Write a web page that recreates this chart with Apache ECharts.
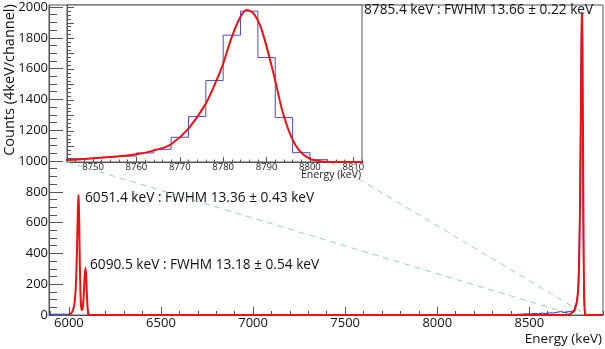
<!DOCTYPE html>
<html>
<head>
<meta charset="utf-8">
<script src="https://cdn.jsdelivr.net/npm/echarts@6/dist/echarts.min.js"></script>
<style>
  html, body { margin: 0; padding: 0; background: #fff; }
  #chart { width: 605px; height: 349px; }
</style>
</head>
<body>
<div id="chart"></div>
<script>
// ---- main spectrum ----
const xRange = [5892, 8900]
const yRange = [0, 2013]
const xMajorTicks = [6000, 6500, 7000, 7500, 8000, 8500]
const yMajorTicks = [0, 200, 400, 600, 800, 1000, 1200, 1400, 1600, 1800, 2000]

// blue histogram below 6010 keV
const lowHistE = [5893, 5900, 5908, 5916, 5924, 5932, 5940, 5948, 5956, 5964, 5972, 5980, 5988, 5996, 6004, 6012]
const lowHistC = [4, 5, 3, 4, 6, 4, 5, 3, 5, 4, 6, 5, 4, 6, 8, 12]

// blue histogram tail left of the 8785 keV peak
const tailE = [8390, 8410, 8430, 8450, 8470, 8490, 8510, 8530, 8550, 8570, 8590, 8610, 8630, 8650, 8670, 8690, 8710, 8730]
const tailC = [2, 4, 5, 6, 8, 7, 10, 8, 12, 10, 14, 12, 18, 22, 16, 20, 25, 32]

// fit of the 6051.4 / 6090.5 keV doublet
const lowFitE = [6000, 6010, 6020, 6030, 6036, 6040, 6044, 6048, 6051.4, 6054, 6057, 6060, 6063, 6066, 6070, 6074, 6078, 6082, 6086, 6090.5, 6094, 6098, 6102, 6106, 6110]
const lowFitC = [3, 8, 25, 70, 150, 260, 430, 640, 779, 720, 520, 300, 140, 60, 32, 40, 80, 160, 260, 305, 250, 130, 40, 10, 0]

// ---- 8785.4 keV peak (inset) ----
const insetX = [8744, 8812]
const insetY = [0, 2030]
const insetXTicks = [8750, 8760, 8770, 8780, 8790, 8800, 8810]
const binEdges = [8744, 8748, 8752, 8756, 8760, 8764, 8768, 8772, 8776, 8780, 8784, 8788, 8792, 8796, 8800, 8804, 8808, 8812]
const binCounts = [43, 60, 69, 78, 117, 164, 320, 587, 1053, 1640, 1951, 1351, 574, 121, 30, 4, 0]

const fitE = [8700, 8720, 8730, 8744, 8754, 8760, 8765.6, 8768, 8772, 8776, 8778.8, 8780, 8782, 8784, 8785.4, 8787, 8788.9, 8791.8, 8793.6, 8795.7, 8797.5, 8799.8, 8802, 8804.5, 8812, 8900]
const fitC = [0, 6, 14, 26, 65, 99, 173, 229, 432, 755, 1100, 1273, 1619, 1878, 1964, 1921, 1705, 1100, 669, 324, 151, 47, 13, 0, 0, 0]

const labels = [
  '6051.4 keV : FWHM 13.36 \u00b1 0.43 keV',
  '6090.5 keV : FWHM 13.18 \u00b1 0.54 keV',
  '8785.4 keV : FWHM 13.66 \u00b1 0.22 keV'
]

const FONT = "'Open Sans', sans-serif"
const AXIS_COLOR = '#555'
const BLUE = '#2b2bd0'
const RED = '#f01010'

const pairs = (xs, ys) => xs.map((x, i) => [x, ys[i]])
const steps = (edges, counts) => edges.map((e, i) => [e, i < counts.length ? counts[i] : counts[counts.length - 1]])
const every = (a, b, step) => { const out = []; for (let v = a; v <= b; v += step) out.push(v); return out }
const plain = v => String(v)

const histPeak = steps(binEdges, binCounts)
const tailHist = pairs(tailE, tailC).concat(histPeak)
const fitMain = pairs(lowFitE, lowFitC).concat(pairs(fitE, fitC))

const chart = echarts.init(document.getElementById('chart'))

const majorAxis = (range, ticks, len, extra) => Object.assign({
  type: 'value', min: range[0], max: range[1],
  axisLine: { show: true, onZero: false, lineStyle: { color: AXIS_COLOR, width: 1 } },
  axisTick: { show: true, inside: true, length: len, customValues: ticks, lineStyle: { color: AXIS_COLOR } },
  splitLine: { show: false }
}, extra)

const minorAxis = (range, ticks, len, extra) => Object.assign({
  type: 'value', min: range[0], max: range[1],
  axisLine: { show: false },
  axisLabel: { show: false },
  axisTick: { show: true, inside: true, length: len, customValues: ticks, lineStyle: { color: AXIS_COLOR } },
  splitLine: { show: false }
}, extra)

const option = {
  animation: false,
  backgroundColor: '#fff',
  grid: [
    { left: 49, top: 5, right: 2, bottom: 34, show: true, borderColor: AXIS_COLOR, borderWidth: 1 },
    { left: 67, top: 5, right: 243, bottom: 187, show: true, borderColor: AXIS_COLOR, borderWidth: 1, backgroundColor: '#fff' }
  ],
  xAxis: [
    majorAxis(xRange, xMajorTicks, 8, {
      gridIndex: 0, position: 'bottom',
      axisLabel: { customValues: xMajorTicks, formatter: plain, margin: 2, color: '#111', fontFamily: FONT, fontSize: 13 }
    }),
    majorAxis(insetX, insetXTicks, 5, {
      gridIndex: 1, position: 'bottom',
      axisLabel: { customValues: insetXTicks, formatter: plain, margin: 0, color: '#222', fontFamily: FONT, fontSize: 9.5 }
    }),
    minorAxis(xRange, every(5900, 8900, 100), 4, { gridIndex: 0, position: 'bottom' }),
    minorAxis(insetX, every(8744, 8812, 2), 2.5, { gridIndex: 1, position: 'bottom' })
  ],
  yAxis: [
    majorAxis(yRange, yMajorTicks, 14, {
      gridIndex: 0, position: 'left',
      axisLabel: { customValues: yMajorTicks, formatter: plain, margin: 1, color: '#111', fontFamily: FONT, fontSize: 13 }
    }),
    majorAxis(insetY, yMajorTicks, 7, {
      gridIndex: 1, position: 'left', axisLabel: { show: false }
    }),
    minorAxis(yRange, every(0, 2000, 50), 8, { gridIndex: 0, position: 'left' }),
    minorAxis(insetY, every(0, 2000, 50), 4, { gridIndex: 1, position: 'left' })
  ],
  series: [
    { type: 'line', xAxisIndex: 0, yAxisIndex: 0, data: pairs(lowHistE, lowHistC), symbol: 'none',
      lineStyle: { color: BLUE, width: 1 }, z: 3 },
    { type: 'line', xAxisIndex: 0, yAxisIndex: 0, data: tailHist, step: 'end', symbol: 'none',
      lineStyle: { color: BLUE, width: 1 }, z: 3 },
    { type: 'line', xAxisIndex: 0, yAxisIndex: 0, data: fitMain, symbol: 'none', smooth: 0.3,
      lineStyle: { color: RED, width: 2 }, z: 4 },
    { type: 'line', xAxisIndex: 1, yAxisIndex: 1, data: histPeak, step: 'end', symbol: 'none',
      lineStyle: { color: '#4a4ad6', width: 1 }, z: 5 },
    { type: 'line', xAxisIndex: 1, yAxisIndex: 1, data: pairs(fitE, fitC), symbol: 'none', smooth: 0.3,
      lineStyle: { color: RED, width: 2 }, z: 6 }
  ],
  graphic: [
    { id: 'ytitle', type: 'text', x: 10, y: 80, rotation: Math.PI / 2,
      style: { text: 'Counts (4keV/channel)', font: "14.5px " + FONT, fill: '#111', textAlign: 'center', textVerticalAlign: 'middle' } },
    { id: 'xtitle', type: 'text', x: 602, y: 339,
      style: { text: 'Energy (keV)', font: "13.5px " + FONT, fill: '#111', textAlign: 'right', textVerticalAlign: 'middle' } },
    { id: 'insetXtitle', type: 'text', x: 361, y: 175, z: 10,
      style: { text: 'Energy (keV)', font: "10.5px " + FONT, fill: '#222', textAlign: 'right', textVerticalAlign: 'middle' } },
    { id: 'lab1', type: 'text', x: 85, y: 198,
      style: { text: labels[0], font: "13.7px " + FONT, fill: '#111', textAlign: 'left', textVerticalAlign: 'middle' } },
    { id: 'lab2', type: 'text', x: 90, y: 265,
      style: { text: labels[1], font: "13.7px " + FONT, fill: '#111', textAlign: 'left', textVerticalAlign: 'middle' } },
    { id: 'lab3', type: 'text', x: 364, y: 10,
      style: { text: labels[2], font: "13.7px " + FONT, fill: '#111', textAlign: 'left', textVerticalAlign: 'middle' } }
  ]
}

chart.setOption(option)

// dashed connectors from the inset corners down to the zoomed energy window
const inBL = chart.convertToPixel({ xAxisIndex: 1, yAxisIndex: 1 }, [insetX[0], insetY[0]])
const inTL = chart.convertToPixel({ xAxisIndex: 1, yAxisIndex: 1 }, [insetX[0], insetY[1]])
const mainL = chart.convertToPixel({ xAxisIndex: 0, yAxisIndex: 0 }, [insetX[0], 0])
const mainR = chart.convertToPixel({ xAxisIndex: 0, yAxisIndex: 0 }, [insetX[1], 0])
// second connector is hidden behind the inset, start it at the inset's bottom edge
const t = (inBL[1] - inTL[1]) / (mainR[1] - inTL[1])
const startX2 = inTL[0] + t * (mainR[0] - inTL[0])
const dash = { stroke: '#92d8a0', lineWidth: 1, lineDash: [6, 5] }

chart.setOption({
  graphic: [
    { id: 'conn1', type: 'line', silent: true, z: 1,
      shape: { x1: inBL[0], y1: inBL[1], x2: mainL[0], y2: mainL[1] }, style: dash },
    { id: 'conn2', type: 'line', silent: true, z: 1,
      shape: { x1: startX2, y1: inBL[1], x2: mainR[0], y2: mainR[1] }, style: dash }
  ]
})
</script>
</body>
</html>
